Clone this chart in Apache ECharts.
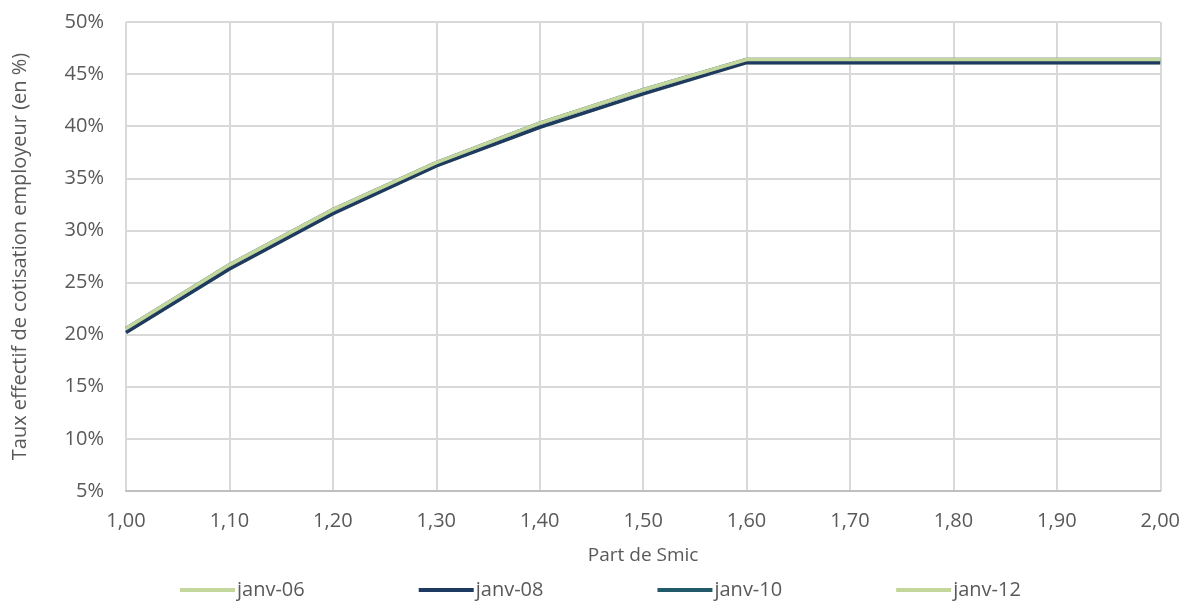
<!DOCTYPE html>
<html>
<head>
<meta charset="utf-8">
<script src="https://cdn.jsdelivr.net/npm/echarts@6/dist/echarts.min.js"></script>
<style>
  html, body { margin: 0; padding: 0; background: #fff; }
  #chart { width: 1183px; height: 605px; }
</style>
</head>
<body>
<div id="chart"></div>
<script>
  // part de Smic (abscisses)
  const smic = [1.0, 1.1, 1.2, 1.3, 1.4, 1.5, 1.6, 1.7, 1.8, 1.9, 2.0]
  // taux effectif de cotisation employeur, en %
  const janv06 = [20.2, 26.3, 31.6, 36.2, 39.9, 43.1, 46.1, 46.1, 46.1, 46.1, 46.1]
  const janv08 = [20.2, 26.3, 31.6, 36.2, 39.9, 43.1, 46.1, 46.1, 46.1, 46.1, 46.1]
  const janv10 = [20.6, 26.7, 32.0, 36.5, 40.3, 43.5, 46.4, 46.4, 46.4, 46.4, 46.4]
  const janv12 = [20.6, 26.7, 32.0, 36.5, 40.3, 43.5, 46.4, 46.4, 46.4, 46.4, 46.4]

  const font = '"Open Sans", "Noto Sans", sans-serif'
  const txt = '#595959'

  const pairs = arr => smic.map((x, i) => [x, arr[i]])
  const mkSeries = (name, data, color) => ({
    name,
    type: 'line',
    data: pairs(data),
    symbol: 'none',
    lineStyle: { color, width: 3.5 },
    itemStyle: { color },
    animation: false
  })

  const chart = echarts.init(document.getElementById('chart'))
  chart.setOption({
    textStyle: { fontFamily: font },
    grid: { left: 126, right: 22, top: 22, bottom: 114 },
    legend: {
      bottom: 0,
      left: 175,
      itemWidth: 55,
      itemHeight: 4,
      itemGap: 114,
      icon: 'rect',
      textStyle: { color: txt, fontSize: 20, fontFamily: font, padding: [0, 0, 0, -3] },
      data: ['janv-06', 'janv-08', 'janv-10', 'janv-12']
    },
    xAxis: {
      type: 'value',
      min: 1.0,
      max: 2.0,
      interval: 0.1,
      name: 'Part de Smic',
      nameLocation: 'middle',
      nameGap: 55,
      nameTextStyle: { color: txt, fontSize: 19, fontFamily: font },
      axisLine: { show: true, lineStyle: { color: '#bfbfbf', width: 2 } },
      axisTick: { show: false },
      axisLabel: {
        color: txt, fontSize: 20, margin: 20, fontFamily: font,
        formatter: v => v.toFixed(2).replace('.', ',')
      },
      splitLine: { show: true, lineStyle: { color: '#d9d9d9', width: 2 } }
    },
    yAxis: {
      type: 'value',
      min: 5,
      max: 50,
      interval: 5,
      name: 'Taux effectif de cotisation employeur (en %)',
      nameLocation: 'middle',
      nameGap: 96,
      nameTextStyle: { color: txt, fontSize: 20, fontFamily: font },
      axisLine: { show: false },
      axisTick: { show: false },
      axisLabel: { color: txt, fontSize: 20, margin: 22, fontFamily: font, formatter: '{value}%' },
      splitLine: { show: true, lineStyle: { color: '#d9d9d9', width: 2 } }
    },
    series: [
      mkSeries('janv-06', janv06, '#c3d69b'),
      mkSeries('janv-08', janv08, '#1f3a60'),
      mkSeries('janv-10', janv10, '#215968'),
      mkSeries('janv-12', janv12, '#c3d69b')
    ]
  })
</script>
</body>
</html>
